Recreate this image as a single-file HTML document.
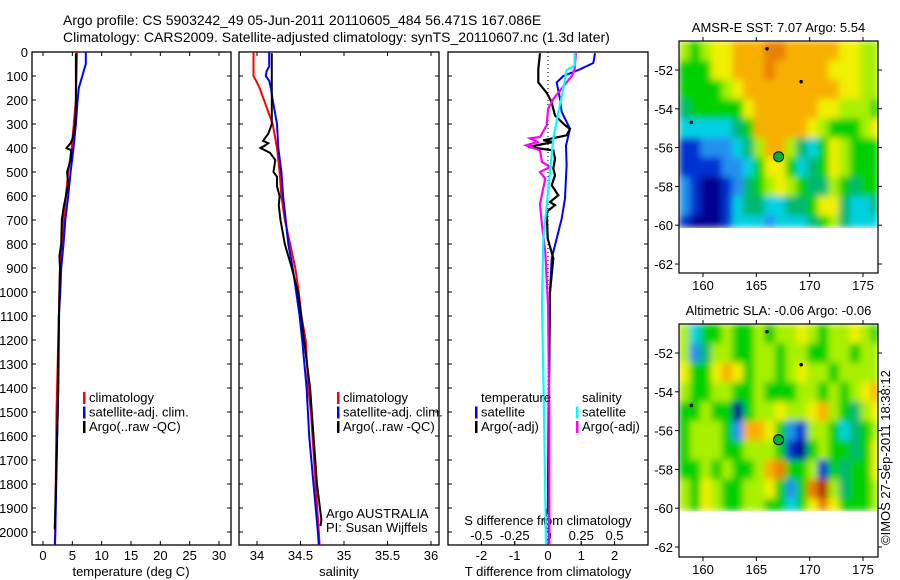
<!DOCTYPE html>
<html><head><meta charset="utf-8"><style>
html,body{margin:0;padding:0;background:#fff;}
svg{display:block;font-family:"Liberation Sans",sans-serif;}
</style></head><body>
<svg id="fig" width="900" height="580" viewBox="0 0 900 580">
<defs>
<filter id="smooth" x="0" y="0" width="1" height="1" filterUnits="objectBoundingBox">
<feGaussianBlur stdDeviation="3.5" edgeMode="duplicate"/>
</filter>
</defs>
<text x="63" y="25" font-size="14">Argo profile: CS 5903242_49 05-Jun-2011 20110605_484 56.471S 167.086E</text>
<text x="63" y="42" font-size="14">Climatology: CARS2009. Satellite-adjusted climatology: synTS_20110607.nc (1.3d later)</text>
</svg>
<script>
// ---------- data ----------
const depthTicks=[0,100,200,300,400,500,600,700,800,900,1000,1100,1200,1300,1400,1500,1600,1700,1800,1900,2000];
const tempTicks=[0,5,10,15,20,25,30];
const salTicks=[34,34.5,35,35.5,36];
const tdiffTicks=[-2,-1,0,1,2];
const sdiffTicks=[-0.5,-0.25,0,0.25,0.5];
const latTicks=[-52,-54,-56,-58,-60,-62];
const lonTicks=[160,165,170,175];

const tClimDepth=[0,200,400,500,600,700,900,1500,2000,2055];
const tClimVal=[5.8,5.6,4.9,4.3,3.9,3.5,2.9,2.3,2.1,2.0];
const tSatDepth=[0,50,100,150,200,300,400,500,600,700,800,900,1000,1100,1200,1500,2000,2055];
const tSatVal=[7.3,7.3,6.7,6.1,5.9,5.6,5.2,4.7,4.3,3.8,3.5,3.1,2.95,2.7,2.65,2.5,2.1,2.05];
const tArgoDepth=[5,200,300,360,380,400,410,450,500,550,600,650,700,800,850,900,1000,1200,1400,1800,1990];
const tArgoVal=[5.6,5.6,5.5,5.05,4.7,4.0,4.8,4.7,4.1,4.3,3.9,3.5,3.2,3.1,2.8,2.9,2.8,2.7,2.6,2.2,2.0];

const sClimDepth=[0,100,120,150,200,250,300,400,500,600,700,800,900,1000,1100,1200,1400,1500,2000,2055];
const sClimVal=[33.96,33.96,33.99,34.03,34.08,34.13,34.18,34.23,34.26,34.28,34.32,34.38,34.44,34.48,34.51,34.56,34.59,34.62,34.71,34.72];
const sSatDepth=[0,60,80,100,120,150,200,300,400,500,600,700,800,900,1000,1100,1200,1400,1600,1800,2000,2055];
const sSatVal=[34.14,34.14,34.11,34.10,34.14,34.16,34.18,34.23,34.245,34.28,34.30,34.33,34.36,34.41,34.45,34.49,34.52,34.57,34.60,34.65,34.70,34.71];
const sArgoDepth=[5,300,340,370,380,390,400,420,450,500,520,560,600,640,700,800,900,1000,1100,1200,1400,1600,1800,1950,1975];
const sArgoVal=[34.17,34.17,34.13,34.07,34.13,34.09,34.04,34.15,34.21,34.19,34.23,34.23,34.26,34.25,34.27,34.32,34.40,34.47,34.51,34.54,34.61,34.65,34.69,34.74,34.73];

const dtSatDepth=[5,46,72,100,127,196,250,320,390,472,610,694,777,860,1000,1400,2050];
const dtSatVal=[1.41,1.36,0.96,0.46,0.26,0.36,0.41,0.66,0.54,0.56,0.51,0.41,0.26,0.11,0.06,0.03,0.02];
const dtArgoDepth=[5,72,127,170,210,265,305,320,347,368,375,396,410,445,486,514,555,597,625,638,666,777,860,1000,1500,1900,1950,1990];
const dtArgoVal=[-0.24,-0.29,-0.29,-0.04,0.11,0.21,0.51,0.66,0.56,-0.14,0.16,-0.59,0.16,0.21,0.16,0.21,0.11,0.31,0.06,0.21,-0.04,-0.01,0.16,0.06,0.02,0.0,-0.1,-0.05];
const dsSatDepth=[5,56,76,153,250,360,500,638,777,1055,1500,2050];
const dsSatVal=[0.20,0.20,0.14,0.115,0.078,0.04,0.015,-0.01,-0.035,-0.045,-0.03,-0.015];
const dsArgoDepth=[5,72,100,196,238,305,354,360,375,389,410,458,479,500,528,632,722,833,1055,1500,2050];
const dsArgoVal=[0.21,0.20,0.178,0.04,0.0,-0.01,-0.06,-0.135,-0.08,-0.165,-0.06,-0.045,0.015,-0.06,-0.02,-0.06,-0.045,-0.02,0.0,0.01,0.01];

// map grids: columns lon 157.75+i (1 deg), rows lat -50.5-j (1 deg), clipped at -60.1
const sstGrid=[
[6,5,6,7,7,8,8,8,9,9,8,8,8,8,8,7,7,6,6],
[5,5,5,7,7,8,8,8,9,8,8,8,8,8,7,7,7,6,6],
[5,5,5,5,6,7,8,8,8,8,8,8,8,8,8,7,7,6,6],
[4,5,5,5,5,5,7,8,8,8,8,8,8,7,7,6,6,6,5],
[3,3,3,3,3,4,5,8,8,8,8,8,7,6,5,5,5,6,7],
[1,1,2,2,2,3,4,6,8,8,6,4,3,5,7,6,5,5,5],
[1,1,1,1,2,2,3,5,7,7,5,3,4,5,7,6,5,5,5],
[2,1,0,0,1,2,4,5,6,7,6,5,4,4,6,5,4,5,5],
[2,1,0,0,1,3,4,4,3,3,4,4,5,7,7,4,3,3,4],
[1,0,0,0,1,3,3,3,2,3,3,3,4,5,6,4,3,3,3]];
const slaGrid=[
[6,3,5,5,6,5,5,6,5,6,6,7,6,5,6,6,7,6,5],
[6,2,4,6,6,5,5,6,6,5,6,6,5,5,6,6,5,6,6],
[7,5,5,7,8,7,5,6,6,5,6,7,6,6,5,6,6,6,6],
[6,5,5,6,6,5,5,6,5,5,5,6,6,5,6,5,6,7,8],
[5,5,6,5,5,0,5,6,6,7,6,6,7,8,6,5,4,6,7],
[5,6,6,6,5,2,8,8,7,5,2,1,6,6,5,3,4,5,6],
[5,6,6,6,5,5,6,6,6,5,1,0,5,6,5,5,4,5,7],
[5,5,6,5,6,5,5,6,8,9,5,5,6,1,5,4,5,5,7],
[6,5,7,6,5,5,6,6,7,5,2,5,9,10,6,4,5,5,6],
[6,5,7,6,5,5,6,6,5,5,3,5,7,9,7,5,5,5,6]];
const floatLon=167.086, floatLat=-56.471;
const dotLon=[166,169.2,158.9], dotLat=[-50.9,-52.6,-54.7];

// ---------- helpers ----------
const NS='http://www.w3.org/2000/svg';
const svg=document.getElementById('fig');
function mk(tag,attrs,parent){const e=document.createElementNS(NS,tag);for(const k in attrs)e.setAttribute(k,attrs[k]);(parent||svg).appendChild(e);return e;}
function txt(x,y,s,size,anchor,parent){const t=mk('text',{x:x,y:y,'font-size':size,'text-anchor':anchor||'start'},parent);t.textContent=s;return t;}

const top0=52, pxPerM=0.24, bot=545;
const yD=d=>top0+d*pxPerM;
const panels=[{x0:32,x1:231},{x0:239,x1:439},{x0:448,x1:648}];
const xT=v=>43+v*(176/30);
const xS=v=>257+(v-34)*87;
const xDT=v=>548+v*33.3;
const xDS=v=>548+v*133;

function line(xf,depths,vals,color,w,name){
  const pts=depths.map((d,i)=>xf(vals[i]).toFixed(1)+','+yD(d).toFixed(1)).join(' ');
  const p=mk('polyline',{points:pts,fill:'none',stroke:color,'stroke-width':w,'stroke-linejoin':'miter'});
  
  
}

panels.forEach((p,pi)=>{
  const g=mk('g',{});
  
  
  mk('rect',{x:p.x0,y:top0,width:p.x1-p.x0,height:bot-top0,fill:'none',stroke:'#000','stroke-width':1.3},g);
  depthTicks.forEach(d=>{
    mk('line',{x1:p.x0,x2:p.x0+4,y1:yD(d),y2:yD(d),stroke:'#000'},g);
    mk('line',{x1:p.x1-4,x2:p.x1,y1:yD(d),y2:yD(d),stroke:'#000'},g);
  });
});
depthTicks.forEach(d=>{
  const t=txt(28,yD(d)+5,String(d),13,'end');
  
  
});
function xticks(ticks,xf,ylab,fmt,topTicks){
  ticks.forEach(v=>{
    const x=xf(v);
    mk('line',{x1:x,x2:x,y1:bot,y2:bot-4,stroke:'#000'});
    if(topTicks) mk('line',{x1:x,x2:x,y1:top0,y2:top0+4,stroke:'#000'});
    const t=txt(x,ylab,fmt(v),13,'middle');
    
    
  });
}
xticks(tempTicks,xT,560,v=>String(v),true);
xticks(salTicks,xS,560,v=>String(v),true);
xticks(tdiffTicks,xDT,560,v=>String(v),false);
sdiffTicks.forEach(v=>{
  const x=xDS(v);
  mk('line',{x1:x,x2:x,y1:bot-4,y2:bot,stroke:'#000'});
  const t=txt(x,540,String(v),13,'middle');
  
  
});
let t;
t=txt(131,576,'temperature (deg C)',13,'middle');
t=txt(339,576,'salinity',13,'middle');
t=txt(548,576,'T difference from climatology',13,'middle');
t=txt(548,525,'S difference from climatology',13,'middle');

mk('line',{x1:548,x2:548,y1:top0,y2:bot,stroke:'#000','stroke-dasharray':'1,3','stroke-width':1});

line(xT,tClimDepth,tClimVal,'#f00',2,'temp-climatology-line');
line(xT,tSatDepth,tSatVal,'#00f',2,'temp-satellite-line');
line(xT,tArgoDepth,tArgoVal,'#000',2,'temp-argo-line');
line(xS,sClimDepth,sClimVal,'#f00',2,'sal-climatology-line');
line(xS,sSatDepth,sSatVal,'#00f',2,'sal-satellite-line');
line(xS,sArgoDepth,sArgoVal,'#000',2,'sal-argo-line');
line(xDT,dtSatDepth,dtSatVal,'#00f',2,'tdiff-satellite-line');
line(xDT,dtArgoDepth,dtArgoVal,'#000',2.2,'tdiff-argo-line');
line(xDS,dsArgoDepth,dsArgoVal,'#f0f',2.2,'sdiff-argo-line');
line(xDS,dsSatDepth,dsSatVal,'#0ff',2.2,'sdiff-satellite-line');

function legend(x,y,items){
  items.forEach((it,i)=>{
    const yy=y+i*14.5;
    if(it.c){const r=mk('rect',{x:x,y:yy-10,width:2.5,height:12,fill:it.c});}
    const tt=txt(x+6,yy,it.t,13,'start');
    
    
  });
}
legend(83,402,[{t:'climatology',c:'#f00'},{t:'satellite-adj. clim.',c:'#00f'},{t:'Argo(..raw -QC)',c:'#000'}]);
legend(337,402,[{t:'climatology',c:'#f00'},{t:'satellite-adj. clim.',c:'#00f'},{t:'Argo(..raw -QC)',c:'#000'}]);
legend(475,402,[{t:'temperature',c:null},{t:'satellite',c:'#00f'},{t:'Argo(-adj)',c:'#000'}]);
legend(576,402,[{t:'salinity',c:null},{t:'satellite',c:'#0ff'},{t:'Argo(-adj)',c:'#f0f'}]);
t=txt(326,518,'Argo AUSTRALIA',13);
t=txt(326,532,'PI: Susan Wijffels',13);

// ---------- maps ----------
const palette=['#00008f','#0030d0','#2090f0','#00d0e0','#00b870','#00d000','#a8f000','#f0f000','#f8b000','#e88000','#b03000'];
const mapX0=679, mapX1=878, lon0=157.75, pxLon=160/15;
const mxL=lon=>703+(lon-160)*pxLon;
function drawMap(grid,top,bottom,title,name){
  const g=mk('g',{});
  
  
  const yLat=lat=>top+29+(-52-lat)*19.4;
  const latTop=-52+29/19.4;
  const cells=mk('g',{filter:'url(#smooth)'},g);
  
  
  grid.forEach((row,j)=>{
    row.forEach((v,i)=>{
      const la0=latTop-j, la1=Math.max(latTop-j-1,-60.1);
      const x=Math.max(mxL(lon0+i),mapX0), x2=Math.min(mxL(lon0+i+1),mapX1);
      const c=mk('rect',{x:x,y:yLat(la0),width:x2-x+0.5,height:yLat(la1)-yLat(la0)+0.5,fill:palette[v]},cells);
      
      
    });
  });
  dotLon.forEach((lo,i)=>{
    const d=mk('circle',{cx:mxL(lo),cy:yLat(dotLat[i]),r:1.8,fill:'#000'},g);
    
    
  });
  const fc=mk('circle',{cx:mxL(floatLon),cy:yLat(floatLat),r:5,fill:'#00b040',stroke:'#000','stroke-width':1},g);
  
  
  mk('rect',{x:mapX0,y:top,width:mapX1-mapX0,height:bottom-top,fill:'none',stroke:'#000','stroke-width':1.2},g);
  latTicks.forEach(la=>{
    const y=yLat(la);
    mk('line',{x1:mapX0-4,x2:mapX0,y1:y,y2:y,stroke:'#000'},g);
    mk('line',{x1:mapX1,x2:mapX1+4,y1:y,y2:y,stroke:'#000'},g);
    const tl=txt(mapX0-6,y+5,String(la),13,'end',g);
    
    
  });
  lonTicks.forEach(lo=>{
    const x=mxL(lo);
    mk('line',{x1:x,x2:x,y1:bottom,y2:bottom+4,stroke:'#000'},g);
    mk('line',{x1:x,x2:x,y1:top-4,y2:top,stroke:'#000'},g);
    const tl=txt(x,bottom+17,String(lo),13,'middle',g);
    
    
  });
  const tt=txt((mapX0+mapX1)/2,top-9,title,13,'middle',g);
  
  
}
drawMap(sstGrid,41,273,'AMSR-E SST: 7.07 Argo: 5.54','sst-map');
drawMap(slaGrid,324,557,'Altimetric SLA: -0.06 Argo: -0.06','sla-map');
t=mk('text',{x:0,y:0,'font-size':13,transform:'translate(890,545) rotate(-90)'});
t.textContent='©IMOS 27-Sep-2011 18:38:12';


</script>
</body></html>
